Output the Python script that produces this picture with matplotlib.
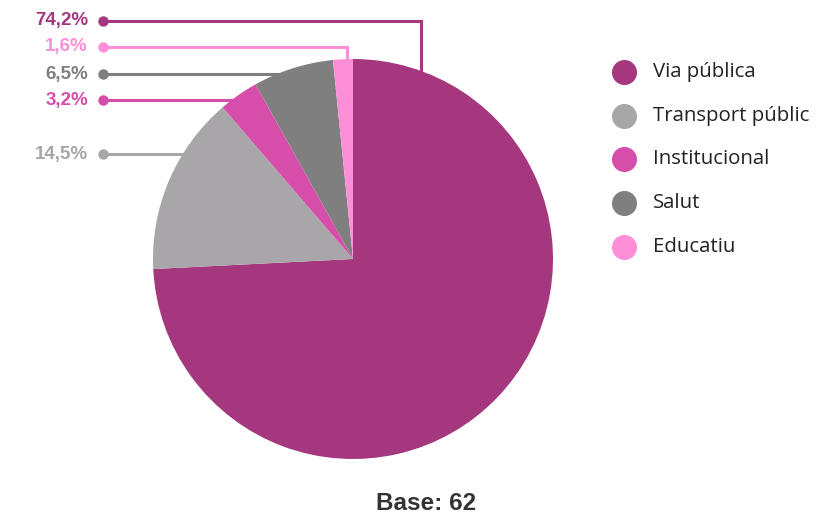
import math
import matplotlib.pyplot as plt

categories = ["Via pública", "Transport públic", "Institucional", "Salut", "Educatiu"]
values = [74.2, 14.5, 3.2, 6.5, 1.6]
labels = ["74,2%", "14,5%", "3,2%", "6,5%", "1,6%"]
colors = ["#a5377f", "#a8a6a8", "#d74daa", "#7f7f7f", "#ff8ed8"]
base_text = "Base: 62"

# layout (pixels, y from top)
W, H = 827, 518
cx, cy, r = 353, H - 259, 200
label_y = [21, 154, 100, 74, 47]
# for labels above the pie: angle on the slice where the elbow drops
elbow_angle = {0: 70.0, 4: 91.7}

fig = plt.figure(figsize=(W / 100, H / 100), dpi=100)
ax = fig.add_axes([0, 0, 1, 1])

wedges, _ = ax.pie(values, colors=colors, startangle=90, counterclock=False,
                   center=(cx, cy), radius=r, frame=True,
                   wedgeprops=dict(linewidth=0, zorder=3))
ax.set_xlim(0, W)
ax.set_ylim(0, H)
ax.axis("off")

x_dot = 103
for i, w in enumerate(wedges):
    ly = H - label_y[i]
    if i in elbow_angle:
        a = math.radians(elbow_angle[i])
        px, py = cx + r * math.cos(a), cy + r * math.sin(a)
        xs, ys = [x_dot, px, px], [ly, ly, py - 5]
    else:
        dy = ly - cy
        px = cx - math.sqrt(r * r - dy * dy)
        xs, ys = [x_dot, px + 5], [ly, ly]
    ax.plot(xs, ys, color=colors[i], lw=2.2, zorder=2, solid_joinstyle="miter")
    ax.plot([x_dot], [ly], "o", color=colors[i], ms=6.5, zorder=2)
    ax.text(88, ly, labels[i], color=colors[i], fontsize=13.5, fontweight="bold",
            family="Liberation Sans", ha="right", va="center")

# legend
for i, cat in enumerate(categories):
    y = H - (72 + i * 43.7)
    ax.plot([624], [y], "o", color=colors[i], ms=17)
    ax.text(653, y, cat, fontsize=14.7, family="Open Sans", color="#222222",
            ha="left", va="center")

ax.text(426, H - 503, base_text, fontsize=17.5, fontweight="bold",
        family="Liberation Sans", color="#333333", ha="center", va="center")

fig.savefig("out.png", dpi=100)
